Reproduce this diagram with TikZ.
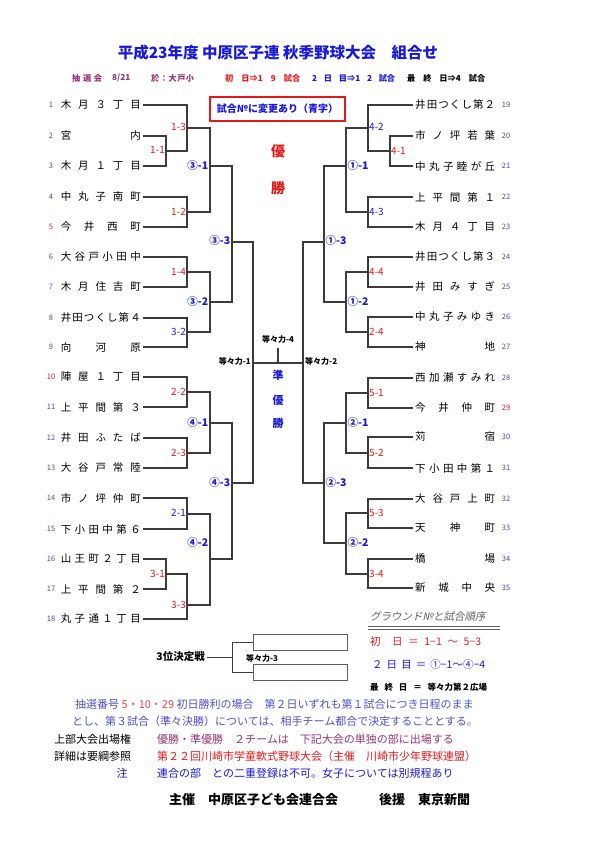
\documentclass[tikz,border=0pt]{standalone}
\usepackage{fontspec}
\setmainfont{Noto Sans CJK JP}
\newfontfamily\jpsl{Noto Sans CJK JP}[FakeSlant=0.2]
\definecolor{tblue}{RGB}{25,25,215}
\definecolor{mred}{RGB}{225,25,25}
\definecolor{numblue}{RGB}{75,75,155}
\definecolor{mauve}{RGB}{150,55,115}
\definecolor{lblue}{RGB}{80,80,205}
\definecolor{lgray}{RGB}{95,95,95}
\definecolor{bgray}{RGB}{60,60,60}
\makeatletter
\newcommand\spreadchars[1]{\def\sc@first{1}\@tfor\sc@c:=#1\do{\ifx\sc@first\@empty\hfill\fi\sc@c\let\sc@first\@empty}}
\makeatother
\newcommand\tn[1]{\makebox[80pt][s]{\spreadchars{#1}}}
\begin{document}
\begin{tikzpicture}[x=1pt,y=-1pt,
  bl/.style={draw=bgray,line width=1.1pt},
  team/.style={inner sep=2pt,font=\fontsize{10.5}{12}\selectfont},
  num/.style={inner sep=0pt,font=\fontsize{7.5}{8}\selectfont,text=numblue},
  numr/.style={num,text=mred},
  lab/.style={inner sep=0.5pt,font=\fontsize{10}{11}\selectfont},
  labL/.style={lab,anchor=east},
  labR/.style={lab,anchor=west},
  rd/.style={text=mred},
  bu/.style={text=tblue},
  cir/.style={text=tblue,font=\fontsize{10.5}{11}\bfseries},
  tdk/.style={inner sep=1pt,font=\fontsize{8}{9}\bfseries},
  txt/.style={inner sep=0pt,font=\fontsize{11}{13}\selectfont,anchor=west},
  sub/.style={inner sep=0pt,font=\fontsize{8.2}{9}\bfseries,anchor=west},
  wbox/.style={draw=lgray,line width=0.7pt,minimum width=94pt,minimum height=16pt,inner sep=0pt,anchor=west}
]
\useasboundingbox (0,0) rectangle (595,842);
\fill[white] (0,0) rectangle (595,842);

% title
\node[inner sep=0pt,text=tblue,font=\fontsize{15.5}{18}\bfseries] (title) at (278,53) {平成23年度 中原区子連 秋季野球大会\quad 組合せ};
\node[sub,text=mauve] (s1) at (72,78) {\makebox[30pt][s]{抽\hfill 選\hfill 会}};
\node[sub,text=mauve] (s2) at (112,78) {\makebox[28pt][s]{8/21}};
\node[sub,text=mauve] (s3) at (151,78) {\makebox[43pt][s]{於\hfill ：\hfill 大\hfill 戸\hfill 小}};
\node[sub,text=mred] (s4) at (225,78) {\makebox[75pt][s]{初\hfill 日⇒1\hfill 9\hfill 試合}};
\node[sub,text=tblue] (s5) at (312,78) {\makebox[83pt][s]{2\hfill 日\hfill 目⇒1\hfill 2\hfill 試合}};
\node[sub,text=black] (s6) at (407,78) {\makebox[78pt][s]{最\hfill 終\hfill 日⇒4\hfill 試合}};

% change notice
\node[draw=mred,line width=2pt,minimum width=135pt,minimum height=24pt,inner sep=0pt,text=tblue,font=\fontsize{10}{12}\bfseries] (notice) at (277.5,109) {試合№に変更あり（青字）};

% left teams
\node[team,anchor=east] (t1) at (143,105) {\tn{木月３丁目}};
\node[team,anchor=east] (t2) at (143,136) {\tn{宮内}};
\node[team,anchor=east] (t3) at (143,166) {\tn{木月１丁目}};
\node[team,anchor=east] (t4) at (143,197) {\tn{中丸子南町}};
\node[team,anchor=east] (t5) at (143,227) {\tn{今井西町}};
\node[team,anchor=east] (t6) at (143,257) {\tn{大谷戸小田中}};
\node[team,anchor=east] (t7) at (143,287) {\tn{木月住吉町}};
\node[team,anchor=east] (t8) at (143,318) {\tn{井田つくし第４}};
\node[team,anchor=east] (t9) at (143,347) {\tn{向河原}};
\node[team,anchor=east] (t10) at (143,377) {\tn{陣屋１丁目}};
\node[team,anchor=east] (t11) at (143,407) {\tn{上平間第３}};
\node[team,anchor=east] (t12) at (143,438) {\tn{井田ふたば}};
\node[team,anchor=east] (t13) at (143,468) {\tn{大谷戸常陸}};
\node[team,anchor=east] (t14) at (143,498) {\tn{市ノ坪仲町}};
\node[team,anchor=east] (t15) at (143,529) {\tn{下小田中第６}};
\node[team,anchor=east] (t16) at (143,559) {\tn{山王町２丁目}};
\node[team,anchor=east] (t17) at (143,589) {\tn{上平間第２}};
\node[team,anchor=east] (t18) at (143,619) {\tn{丸子通１丁目}};
% left numbers
\node[num] (n1) at (51,105) {1};
\node[num] (n2) at (51,136) {2};
\node[num] (n3) at (51,166) {3};
\node[num] (n4) at (51,197) {4};
\node[numr] (n5) at (51,227) {5};
\node[num] (n6) at (51,257) {6};
\node[num] (n7) at (51,287) {7};
\node[num] (n8) at (51,318) {8};
\node[num] (n9) at (51,347) {9};
\node[numr] (n10) at (51,377) {10};
\node[num] (n11) at (51,407) {11};
\node[num] (n12) at (51,438) {12};
\node[num] (n13) at (51,468) {13};
\node[num] (n14) at (51,498) {14};
\node[num] (n15) at (51,529) {15};
\node[num] (n16) at (51,559) {16};
\node[num] (n17) at (51,589) {17};
\node[num] (n18) at (51,619) {18};

% right teams
\node[team,anchor=west] (t19) at (413,105) {\tn{井田つくし第２}};
\node[team,anchor=west] (t20) at (413,136) {\tn{市ノ坪若葉}};
\node[team,anchor=west] (t21) at (413,166) {\tn{中丸子睦が丘}};
\node[team,anchor=west] (t22) at (413,197) {\tn{上平間第１}};
\node[team,anchor=west] (t23) at (413,227) {\tn{木月４丁目}};
\node[team,anchor=west] (t24) at (413,257) {\tn{井田つくし第３}};
\node[team,anchor=west] (t25) at (413,287) {\tn{井田みすぎ}};
\node[team,anchor=west] (t26) at (413,317) {\tn{中丸子みゆき}};
\node[team,anchor=west] (t27) at (413,347) {\tn{神地}};
\node[team,anchor=west] (t28) at (413,378) {\tn{西加瀬すみれ}};
\node[team,anchor=west] (t29) at (413,408) {\tn{今井仲町}};
\node[team,anchor=west] (t30) at (413,437) {\tn{苅宿}};
\node[team,anchor=west] (t31) at (413,468) {\tn{下小田中第１}};
\node[team,anchor=west] (t32) at (413,499) {\tn{大谷戸上町}};
\node[team,anchor=west] (t33) at (413,528) {\tn{天神町}};
\node[team,anchor=west] (t34) at (413,559) {\tn{橋場}};
\node[team,anchor=west] (t35) at (413,588) {\tn{新城中央}};
% right numbers
\node[num] (n19) at (506,105) {19};
\node[num] (n20) at (506,136) {20};
\node[num] (n21) at (506,166) {21};
\node[num] (n22) at (506,197) {22};
\node[num] (n23) at (506,227) {23};
\node[num] (n24) at (506,257) {24};
\node[num] (n25) at (506,287) {25};
\node[num] (n26) at (506,317) {26};
\node[num] (n27) at (506,347) {27};
\node[num] (n28) at (506,378) {28};
\node[numr] (n29) at (506,408) {29};
\node[num] (n30) at (506,437) {30};
\node[num] (n31) at (506,468) {31};
\node[num] (n32) at (506,499) {32};
\node[num] (n33) at (506,528) {33};
\node[num] (n34) at (506,559) {34};
\node[num] (n35) at (506,588) {35};

% junction coordinates left
\coordinate (m11) at (166,151);
\coordinate (m13) at (187,128);
\coordinate (m12) at (187,212);
\coordinate (m14) at (187,272);
\coordinate (m32s) at (187,332);
\coordinate (c31) at (210,166);
\coordinate (c32) at (210,302);
\coordinate (c33) at (232,242);
\coordinate (m22) at (187,392);
\coordinate (m23) at (187,453);
\coordinate (c41) at (210,423);
\coordinate (m21) at (187,514);
\coordinate (m31s) at (166,574);
\coordinate (m33s) at (187,605);
\coordinate (c42) at (210,559);
\coordinate (c43) at (232,483);
\coordinate (f1) at (253,363);
\coordinate (f2) at (303,363);
\coordinate (f4) at (278,348);
% junction coordinates right
\coordinate (r41) at (390,151);
\coordinate (r42) at (368,128);
\coordinate (r43) at (368,212);
\coordinate (r44) at (368,272);
\coordinate (r24) at (368,332);
\coordinate (d11) at (346,166);
\coordinate (d12) at (346,302);
\coordinate (d13) at (324,242);
\coordinate (r51) at (368,393);
\coordinate (r52) at (368,453);
\coordinate (r53) at (368,513);
\coordinate (r34) at (368,574);
\coordinate (d21) at (346,423);
\coordinate (d22) at (346,543);
\coordinate (d23) at (324,483);

% left bracket lines
\draw[bl] (t1.east) -| (m13);
\draw[bl] (t2.east) -| (m11);
\draw[bl] (t3.east) -| (m11);
\draw[bl] (m11) -| (m13);
\draw[bl] (t4.east) -| (m12);
\draw[bl] (t5.east) -| (m12);
\draw[bl] (m13) -| (c31);
\draw[bl] (m12) -| (c31);
\draw[bl] (t6.east) -| (m14);
\draw[bl] (t7.east) -| (m14);
\draw[bl] (t8.east) -| (m32s);
\draw[bl] (t9.east) -| (m32s);
\draw[bl] (m14) -| (c32);
\draw[bl] (m32s) -| (c32);
\draw[bl] (c31) -| (c33);
\draw[bl] (c32) -| (c33);
\draw[bl] (t10.east) -| (m22);
\draw[bl] (t11.east) -| (m22);
\draw[bl] (t12.east) -| (m23);
\draw[bl] (t13.east) -| (m23);
\draw[bl] (m22) -| (c41);
\draw[bl] (m23) -| (c41);
\draw[bl] (t14.east) -| (m21);
\draw[bl] (t15.east) -| (m21);
\draw[bl] (t16.east) -| (m31s);
\draw[bl] (t17.east) -| (m31s);
\draw[bl] (m31s) -| (m33s);
\draw[bl] (t18.east) -| (m33s);
\draw[bl] (m21) -| (c42);
\draw[bl] (m33s) -| (c42);
\draw[bl] (c41) -| (c43);
\draw[bl] (c42) -| (c43);
% centre
\draw[bl] (c33) -| (f1);
\draw[bl] (c43) -| (f1);
\draw[bl] (f1) -- (f2);
\draw[bl] (f4) -- (f4 |- f1);
\draw[bl] (d13) -| (f2);
\draw[bl] (d23) -| (f2);
% right bracket lines
\draw[bl] (t19.west) -| (r42);
\draw[bl] (t20.west) -| (r41);
\draw[bl] (t21.west) -| (r41);
\draw[bl] (r41) -| (r42);
\draw[bl] (t22.west) -| (r43);
\draw[bl] (t23.west) -| (r43);
\draw[bl] (r42) -| (d11);
\draw[bl] (r43) -| (d11);
\draw[bl] (t24.west) -| (r44);
\draw[bl] (t25.west) -| (r44);
\draw[bl] (t26.west) -| (r24);
\draw[bl] (t27.west) -| (r24);
\draw[bl] (r44) -| (d12);
\draw[bl] (r24) -| (d12);
\draw[bl] (d11) -| (d13);
\draw[bl] (d12) -| (d13);
\draw[bl] (t28.west) -| (r51);
\draw[bl] (t29.west) -| (r51);
\draw[bl] (t30.west) -| (r52);
\draw[bl] (t31.west) -| (r52);
\draw[bl] (r51) -| (d21);
\draw[bl] (r52) -| (d21);
\draw[bl] (t32.west) -| (r53);
\draw[bl] (t33.west) -| (r53);
\draw[bl] (t34.west) -| (r34);
\draw[bl] (t35.west) -| (r34);
\draw[bl] (r53) -| (d22);
\draw[bl] (r34) -| (d22);
\draw[bl] (d21) -| (d23);
\draw[bl] (d22) -| (d23);

% left match labels
\node[labL,rd] (l13) at (186.5,127) {1-3};
\node[labL,rd] (l11) at (165.5,150) {1-1};
\node[labL,rd] (l12) at (186.5,212) {1-2};
\node[labL,cir] (l31) at (209,166) {③-1};
\node[labL,rd] (l14) at (186.5,272) {1-4};
\node[labL,bu] (l32s) at (186.5,332) {3-2};
\node[labL,cir] (l32) at (209,302) {③-2};
\node[labL,cir] (l33) at (231,241) {③-3};
\node[labL,rd] (l22) at (186.5,392) {2-2};
\node[labL,rd] (l23) at (186.5,453) {2-3};
\node[labL,cir] (l41) at (209,423) {④-1};
\node[labL,bu] (l21) at (186.5,513) {2-1};
\node[labL,rd] (l31s) at (165.5,574) {3-1};
\node[labL,rd] (l33s) at (186.5,605) {3-3};
\node[labL,cir] (l42) at (209,543) {④-2};
\node[labL,cir] (l43) at (231,483) {④-3};
% right match labels
\node[labR,bu] (q42) at (368.5,127) {4-2};
\node[labR,rd] (q41) at (390.5,151) {4-1};
\node[labR,bu] (q43) at (368.5,212) {4-3};
\node[labR,cir] (q11) at (347,166) {①-1};
\node[labR,rd] (q44) at (368.5,272) {4-4};
\node[labR,rd] (q24) at (368.5,332) {2-4};
\node[labR,cir] (q12) at (347,302) {①-2};
\node[labR,cir] (q13) at (325,241) {①-3};
\node[labR,rd] (q51) at (368.5,393) {5-1};
\node[labR,rd] (q52) at (368.5,453) {5-2};
\node[labR,cir] (q21) at (347,423) {②-1};
\node[labR,rd] (q53) at (368.5,513) {5-3};
\node[labR,rd] (q34) at (368.5,574) {3-4};
\node[labR,cir] (q22) at (347,543) {②-2};
\node[labR,cir] (q23) at (325,483) {②-3};

% centre texts
\node[inner sep=0pt,text=mred,font=\fontsize{14}{16}\bfseries] (w1) at (278,151) {優};
\node[inner sep=0pt,text=mred,font=\fontsize{14}{16}\bfseries] (w2) at (278,188) {勝};
\node[inner sep=0pt,text=tblue,font=\fontsize{11}{13}\bfseries] (v1) at (278,375) {準};
\node[inner sep=0pt,text=tblue,font=\fontsize{11}{13}\bfseries] (v2) at (278,400) {優};
\node[inner sep=0pt,text=tblue,font=\fontsize{11}{13}\bfseries] (v3) at (278,423) {勝};
\node[tdk] (k4) at (278,339) {等々力-4};
\node[tdk,anchor=east] (k1) at (252,361) {等々力-1};
\node[tdk,anchor=west] (k2) at (304,361) {等々力-2};

% third place
\node[inner sep=2pt,anchor=east,font=\fontsize{10.5}{12}\bfseries] (third) at (207,657) {3位決定戦};
\coordinate (q3) at (232,657);
\node[wbox] (b1) at (253,642) {};
\node[wbox] (b2) at (253,672) {};
\draw[bl,line width=0.9pt] (third.east) -- (q3);
\draw[bl,line width=0.9pt] (b1.west) -| (q3);
\draw[bl,line width=0.9pt] (b2.west) -| (q3);
\node[tdk] (k3) at (262,658) {等々力-3};

% legend
\node[inner sep=0pt,anchor=west,text=lgray,font=\jpsl\fontsize{10.5}{12}\selectfont] (g0) at (370,617) {グラウンド№と試合順序};
\coordinate (ul1) at (368,626.5);
\coordinate (ul2) at (500,626.5);
\draw[draw=lgray,line width=1.2pt] (ul1) -- (ul2);
\draw[draw=lgray,line width=0.7pt] ([yshift=-2.5pt]ul1) -- ([yshift=-2.5pt]ul2);
\node[inner sep=0pt,anchor=west,text=mred,font=\fontsize{10.5}{12}\selectfont] (g1) at (370,642) {\makebox[111pt][s]{初\hfill\hfill 日\hfill ＝\hfill 1−1\hfill ～\hfill 5−3}};
\node[inner sep=0pt,anchor=west,text=tblue,font=\fontsize{10.5}{12}\selectfont] (g2) at (372,665) {\makebox[113pt][s]{２\hfill 日\hfill 目\hfill ＝\hfill ①−1～④−4}};
\node[inner sep=0pt,anchor=west,font=\fontsize{8.5}{10}\bfseries] (g3) at (370,687) {\makebox[117pt][s]{最\hfill 終\hfill 日\hfill ＝\hfill 等々力第２広場}};

% notes
\node[txt,text=lblue] (p1) at (75,704) {抽選番号 \textcolor{mred!80}{5・10・29} 初日勝利の場合　第２日いずれも第１試合につき日程のまま};
\node[txt,text=lblue] (p2) at (72,721) {とし、第３試合（準々決勝）については、相手チーム都合で決定することとする。};
\node[txt] (p3) at (54,739) {上部大会出場権};
\node[txt,text=mauve] (p4) at (157,739) {優勝・準優勝　２チームは　下記大会の単独の部に出場する};
\node[txt] (p5) at (54,756) {詳細は要綱参照};
\node[txt,text=mred] (p6) at (157,756) {第２２回川崎市学童軟式野球大会（主催　川崎市少年野球連盟）};
\node[txt,text=tblue,anchor=center] (p7) at (122,773) {注};
\node[txt,text=tblue] (p8) at (157,773) {連合の部　との二重登録は不可。女子については別規程あり};

% footer
\node[inner sep=0pt,anchor=west,font=\fontsize{13}{15}\bfseries] (h1) at (169,800) {主催　中原区子ども会連合会};
\node[inner sep=0pt,anchor=west,font=\fontsize{13}{15}\bfseries] (h2) at (379,800) {後援　東京新聞};
\end{tikzpicture}
\end{document}
